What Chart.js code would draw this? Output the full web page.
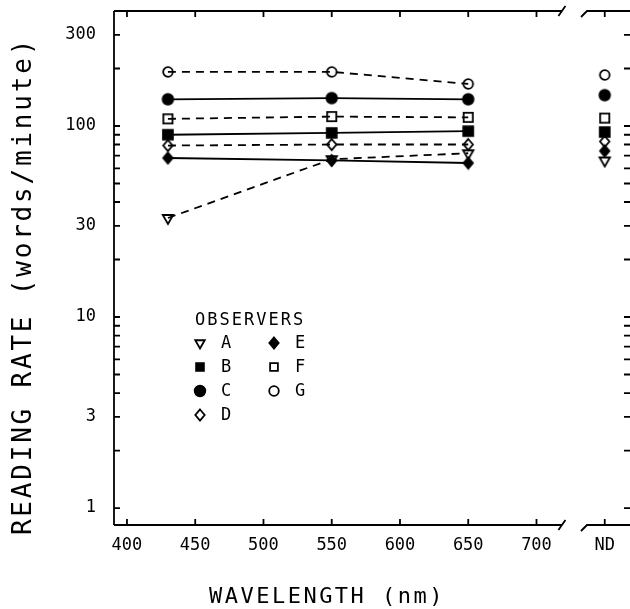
<!DOCTYPE html>
<html><head><meta charset="utf-8">
<script src="https://cdn.jsdelivr.net/npm/chart.js@4/dist/chart.umd.min.js"></script>
<style>
html,body{margin:0;padding:0;background:#fff;overflow:hidden;width:630px;height:609px}
#wrap{position:relative;width:640px;height:609px}
</style></head><body>
<div id="wrap"><canvas id="c" width="640" height="609"></canvas></div>
<script>
// ---- data ----
const wavelengths = [430, 550, 650];
const ndPosition = 750;
const ndLabel = 'ND';
const observerNames = ['A', 'B', 'C', 'D', 'E', 'F', 'G'];
const obsA = [33, 67, 72];   const ndA = 66;
const obsB = [90, 92, 94];   const ndB = 93;
const obsC = [138, 140, 138]; const ndC = 145;
const obsD = [79, 80, 80];   const ndD = 83;
const obsE = [68, 66, 64];   const ndE = 74;
const obsF = [109, 112, 111]; const ndF = 110;
const obsG = [192, 192, 166]; const ndG = 185;
const xTickValues = [400, 450, 500, 550, 600, 650, 700, 750];
const yTickValues = [1,2,3,4,5,6,7,8,9,10,20,30,40,50,60,70,80,90,100,200,300];
const yLabelValues = [1, 3, 10, 30, 100, 300];
const xTitle = 'WAVELENGTH (nm)';
const yTitle = 'READING RATE (words/minute)';
const legendTitle = 'OBSERVERS';

// ---- styles ----
const FONT = "'DejaVu Sans Mono', monospace";
const series = [
  {name:'A', vals:obsA, nd:ndA, shape:'triangleDown', filled:false, dashed:true,  r:6},
  {name:'B', vals:obsB, nd:ndB, shape:'rect',         filled:true,  dashed:false, r:7},
  {name:'C', vals:obsC, nd:ndC, shape:'circle',       filled:true,  dashed:false, r:5.3},
  {name:'D', vals:obsD, nd:ndD, shape:'rectRot',      filled:false, dashed:true,  r:5.5},
  {name:'E', vals:obsE, nd:ndE, shape:'rectRot',      filled:true,  dashed:false, r:5.5},
  {name:'F', vals:obsF, nd:ndF, shape:'rect',         filled:false, dashed:true,  r:6.5},
  {name:'G', vals:obsG, nd:ndG, shape:'circle',       filled:false, dashed:true,  r:4.8}
];

function drawMarker(ctx, shape, x, y, r, filled, hollowFill) {
  ctx.save();
  ctx.lineWidth = 1.8; ctx.strokeStyle = '#000'; ctx.setLineDash([]);
  ctx.beginPath();
  if (shape === 'circle') ctx.arc(x, y, r, 0, Math.PI * 2);
  else if (shape === 'rect') { const h = r * 0.7071; ctx.rect(x - h, y - h, 2 * h, 2 * h); }
  else if (shape === 'rectRot') { ctx.moveTo(x, y - r); ctx.lineTo(x + r * 0.85, y); ctx.lineTo(x, y + r); ctx.lineTo(x - r * 0.85, y); ctx.closePath(); }
  else if (shape === 'triangleDown') {
    ctx.moveTo(x, y + r); ctx.lineTo(x + r * 0.866, y - r * 0.5); ctx.lineTo(x - r * 0.866, y - r * 0.5); ctx.closePath();
  }
  if (filled) { ctx.fillStyle = '#000'; ctx.fill(); }
  else if (hollowFill) { ctx.fillStyle = hollowFill; ctx.fill(); }
  ctx.stroke();
  ctx.restore();
}

function makePointCanvas(s) {
  const size = Math.ceil(s.r * 2 + 4);
  const cv = document.createElement('canvas');
  cv.width = size; cv.height = size;
  drawMarker(cv.getContext('2d'), s.shape, size / 2, size / 2, s.r, s.filled, null);
  return cv;
}

const datasets = series.map(s => ({
  label: s.name,
  data: wavelengths.map((w, i) => ({x: w, y: s.vals[i]})).concat([{x: ndPosition, y: s.nd}]),
  borderColor: '#000',
  borderWidth: 1.8,
  borderDash: s.dashed ? [8, 6] : [],
  pointStyle: makePointCanvas(s),
  pointRadius: s.r,
  tension: 0,
  segment: { borderColor: ctx => ctx.p1DataIndex === wavelengths.length ? 'rgba(0,0,0,0)' : undefined }
}));

const framePlugin = {
  id: 'frame',
  afterDraw(chart) {
    const ctx = chart.ctx, a = chart.chartArea;
    const xs = chart.scales.x, ys = chart.scales.y;
    ctx.save();
    ctx.strokeStyle = '#000'; ctx.lineWidth = 1.8; ctx.setLineDash([]);
    const bA = xs.getPixelForValue(719), bB = xs.getPixelForValue(737);
    ctx.beginPath();
    ctx.moveTo(a.left, a.top); ctx.lineTo(a.left, a.bottom);
    ctx.moveTo(a.right, a.top); ctx.lineTo(a.right, a.bottom);
    [a.top, a.bottom].forEach(y => {
      ctx.moveTo(a.left, y); ctx.lineTo(bA, y);
      ctx.moveTo(bA - 4, y + 5); ctx.lineTo(bA + 3, y - 5);
      ctx.moveTo(bB - 6, y + 6); ctx.lineTo(bB, y);
      ctx.lineTo(a.right, y);
    });
    xTickValues.forEach(v => {
      const px = xs.getPixelForValue(v);
      ctx.moveTo(px, a.bottom); ctx.lineTo(px, a.bottom - 6);
      ctx.moveTo(px, a.top); ctx.lineTo(px, a.top + 6);
    });
    yTickValues.forEach(v => {
      const py = ys.getPixelForValue(v);
      ctx.moveTo(a.left, py); ctx.lineTo(a.left + 6, py);
      ctx.moveTo(a.right, py); ctx.lineTo(a.right - 9, py);
    });
    ctx.stroke();

    ctx.fillStyle = '#000';
    ctx.textAlign = 'center'; ctx.textBaseline = 'middle';
    ctx.font = "22px " + FONT;
    try { ctx.letterSpacing = '2.5px'; } catch (e) {}
    ctx.fillText(xTitle, 327, 597);
    ctx.save();
    ctx.translate(24, 286); ctx.rotate(-Math.PI / 2);
    ctx.font = "26px " + FONT;
    try { ctx.letterSpacing = '2.8px'; } catch (e) {}
    ctx.fillText(yTitle, 0, 0);
    ctx.restore();

    try { ctx.letterSpacing = '2px'; } catch (e) {}
    ctx.font = "17px " + FONT;
    ctx.textAlign = 'left';
    ctx.fillText(legendTitle, 195, 321);
    const rows = 4, rowH = 24, y0 = 343;
    series.forEach((s, i) => {
      const col = Math.floor(i / rows), row = i % rows;
      const sx = col === 0 ? 200 : 274;
      const y = y0 + row * rowH;
      drawMarker(ctx, s.shape, sx, y, Math.min(s.r, 5.5), s.filled, '#fff');
      ctx.fillStyle = '#000';
      ctx.fillText(s.name, sx + 21, y + 1);
    });
    ctx.restore();
  }
};

new Chart(document.getElementById('c'), {
  type: 'line',
  data: { datasets },
  options: {
    responsive: false,
    animation: false,
    layout: { autoPadding: false, padding: { left: 0, top: 11, right: 7, bottom: 0 } },
    plugins: { legend: { display: false }, tooltip: { enabled: false } },
    scales: {
      x: {
        type: 'linear', min: 390.5, max: 770.7,
        afterBuildTicks: s => { s.ticks = xTickValues.map(v => ({value: v})); },
        afterFit: s => { s.height = 84; s.paddingLeft = 0; s.paddingRight = 0; },
        grid: { display: false, drawTicks: false },
        border: { display: false },
        ticks: {
          autoSkip: false, maxRotation: 0, padding: 10, color: '#000',
          font: { family: FONT, size: 17 },
          callback: v => v === ndPosition ? ndLabel : String(v)
        }
      },
      y: {
        type: 'logarithmic', min: 0.815, max: 400,
        afterBuildTicks: s => { s.ticks = yTickValues.map(v => ({value: v})); },
        afterFit: s => { s.width = 114; s.paddingTop = 0; s.paddingBottom = 0; },
        grid: { display: false, drawTicks: false },
        border: { display: false },
        ticks: {
          autoSkip: false, padding: 18, color: '#000',
          font: { family: FONT, size: 17 },
          callback: v => yLabelValues.includes(v) ? String(v) : ''
        }
      }
    }
  },
  plugins: [framePlugin]
});
</script>
</body></html>
